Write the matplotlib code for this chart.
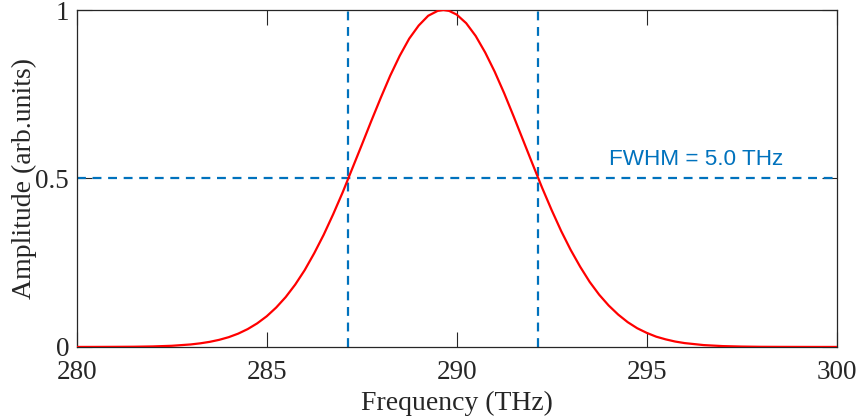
import matplotlib
matplotlib.use("Agg")
import matplotlib.pyplot as plt

# Spectrum (frequency in THz, normalized amplitude)
freq = [280.0, 280.5, 281.0, 281.5, 282.0, 282.5, 283.0, 283.25, 283.5, 283.75,
        284.0, 284.25, 284.5, 284.75, 285.0, 285.25, 285.5, 285.75, 286.0, 286.25,
        286.5, 286.75, 287.0, 287.25, 287.5, 287.75, 288.0, 288.25, 288.5, 288.75,
        289.0, 289.25, 289.5, 289.65, 289.8, 290.0, 290.25, 290.5, 290.75, 291.0,
        291.25, 291.5, 291.75, 292.0, 292.25, 292.5, 292.75, 293.0, 293.25, 293.5,
        293.75, 294.0, 294.25, 294.5, 294.75, 295.0, 295.25, 295.5, 295.75, 296.0,
        296.5, 297.0, 297.5, 298.0, 298.5, 299.0, 299.5, 300.0]
amp = [0.0, 0.0001, 0.0003, 0.0006, 0.0015, 0.0034, 0.0074, 0.0107, 0.0151, 0.0211,
       0.029, 0.0395, 0.053, 0.0700, 0.091, 0.117, 0.148, 0.185, 0.228, 0.278,
       0.333, 0.394, 0.459, 0.529, 0.599, 0.670, 0.739, 0.805, 0.864, 0.915,
       0.954, 0.983, 0.9975, 1.0, 0.9975, 0.9865, 0.961, 0.923, 0.874, 0.817,
       0.753, 0.684, 0.613, 0.542, 0.472, 0.406, 0.344, 0.288, 0.238, 0.193,
       0.155, 0.123, 0.0961, 0.0736, 0.0556, 0.0418, 0.0305, 0.0225, 0.0160, 0.0114,
       0.0055, 0.0025, 0.0011, 0.0004, 0.0002, 0.0001, 0.0, 0.0]

half_max = 0.5
fwhm_left = 287.15
fwhm_right = 292.15
fwhm_label = "FWHM = 5.0 THz"

xticks = [280, 285, 290, 295, 300]
yticks = [0, 0.5, 1]
ytick_labels = ["0", "0.5", "1"]

plt.rcParams['font.family'] = ['Liberation Serif', 'DejaVu Serif']

fig = plt.figure(figsize=(8.59, 4.18), dpi=100)
ax = fig.add_axes([0.0893, 0.170, 0.8847, 0.806])

blue = '#0072BD'
ax.plot(freq, amp, color='#FF0000', lw=1.6, zorder=3)
ax.axhline(half_max, color=blue, ls=(0, (4, 3)), lw=1.6, zorder=2)
ax.axvline(fwhm_left, color=blue, ls=(0, (4, 3)), lw=1.6, zorder=2)
ax.axvline(fwhm_right, color=blue, ls=(0, (4, 3)), lw=1.6, zorder=2)
ax.text(294.02, 0.555, fwhm_label, color=blue, fontsize=16.2,
        family=['Liberation Sans', 'DejaVu Sans'], va='center', ha='left')

ax.set_xlim(280, 300)
ax.set_ylim(0, 1)
ax.set_xticks(xticks)
ax.set_yticks(yticks)
ax.set_yticklabels(ytick_labels)
ax.tick_params(axis='both', direction='in', top=True, right=True, length=10.5, width=0.8,
               labelsize=19.5, colors='#262626')
ax.tick_params(axis='x', pad=9.5)
ax.tick_params(axis='y', pad=5.5)
for sp in ax.spines.values():
    sp.set_color('#262626')
    sp.set_linewidth(0.9)

ax.set_xlabel('Frequency (THz)', fontsize=20, color='#262626', labelpad=4)
ax.set_ylabel('Amplitude (arb.units)', fontsize=20, color='#262626', labelpad=-1)

fig.savefig('out.png', dpi=100)
